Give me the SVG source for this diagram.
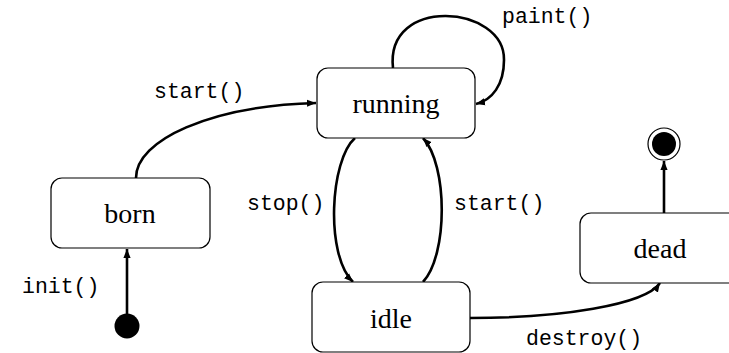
<svg xmlns="http://www.w3.org/2000/svg" width="729" height="353" viewBox="0 0 729 353">
<style>
.box{fill:#fff;stroke:#000;stroke-width:1.2}
.st{font-family:"Liberation Serif",serif;font-size:28px;text-anchor:middle;fill:#000}
.lb{font-family:"Liberation Mono",monospace;font-size:21.5px;fill:#000}
.e{fill:none;stroke:#000;stroke-width:2.6}
</style>
<defs>
<marker id="ah" viewBox="0 0 10 10" refX="10" refY="5" markerWidth="9" markerHeight="9" markerUnits="userSpaceOnUse" orient="auto">
<path d="M0,1 L10,5 L0,9 Z" fill="#000"/>
</marker>
</defs>
<rect width="729" height="353" fill="#fff"/>
<g id="edges">
<path class="e" d="M127,314 L127,249" marker-end="url(#ah)"/>
<path class="e" d="M136,178 C136,140 210,106 316,103" marker-end="url(#ah)"/>
<path class="e" d="M393,68 C385,-5 505,5 504,60 C504,85 492,100 476,104" marker-end="url(#ah)"/>
<path class="e" d="M355,138 C330,160 325,255 353,282" marker-end="url(#ah)"/>
<path class="e" d="M423,282 C448,255 448,165 423,138" marker-end="url(#ah)"/>
<path class="e" d="M470,318 C560,318 645,305 660,283" marker-end="url(#ah)"/>
<path class="e" d="M664,213 L664,161" marker-end="url(#ah)"/>
</g>
<g id="initial"><circle cx="127" cy="326" r="12.5" fill="#000"/></g>
<g id="final"><circle cx="664" cy="144" r="16" fill="#fff" stroke="#000" stroke-width="1.2"/><circle cx="664" cy="144" r="12" fill="#000"/></g>
<g id="running"><rect class="box" x="317" y="68" width="158" height="70" rx="11"/><text class="st" x="396" y="113">running</text></g>
<g id="born"><rect class="box" x="51" y="178" width="159" height="70" rx="11"/><text class="st" x="130" y="223">born</text></g>
<g id="idle"><rect class="box" x="312" y="282" width="158" height="70" rx="11"/><text class="st" x="391" y="328">idle</text></g>
<g id="dead"><rect class="box" x="580" y="213" width="165" height="70" rx="11"/><text class="st" x="660" y="258">dead</text></g>
<g id="labels">
<text class="lb" x="502" y="23">paint()</text>
<text class="lb" x="154" y="98">start()</text>
<text class="lb" x="247" y="210">stop()</text>
<text class="lb" x="454" y="210">start()</text>
<text class="lb" x="22" y="293">init()</text>
<text class="lb" x="526" y="345">destroy()</text>
</g>
</svg>
